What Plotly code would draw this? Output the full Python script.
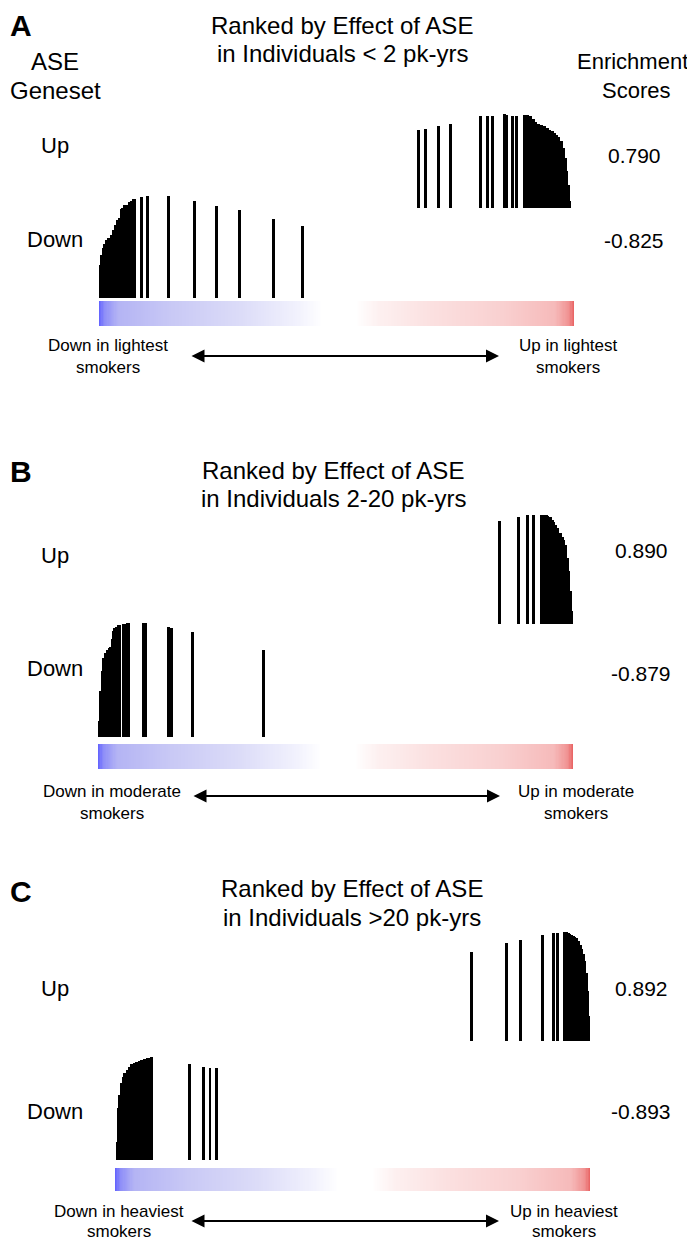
import plotly.graph_objects as go

W, H = 695, 1239

# gene positions in the ranked list (% of list) and bar heights (running score, px units)
a_up_rank = [67.2, 68.8, 71.4, 73.9, 80.4, 81.7, 82.9, 85.3, 85.8, 87.0, 87.9, 89.6, 90.2, 90.9, 91.4, 91.9,
             92.6, 93.1, 93.8, 94.4, 94.9, 95.4, 95.8, 96.3, 96.8, 97.3, 97.8, 98.2, 98.5, 98.8, 99.1]
a_up_height = [78, 79, 82, 84, 92, 92, 92, 94, 93, 92, 92, 93, 93, 92, 89, 86,
               84, 83, 82, 80, 78, 77, 75, 73, 71, 67, 60, 50, 37, 23, 7]
a_down_rank = [0.0, 0.21, 0.48, 0.84, 1.2, 1.54, 2.04, 2.59, 3.01, 3.43, 3.85, 4.21, 4.69, 4.91,
               5.41, 5.83, 6.46, 6.8, 7.22, 7.52, 8.9, 10.3, 14.7, 20.1, 24.7, 29.5, 36.7, 42.9]
a_down_height = [18, 33, 43, 50, 54, 58, 60, 63, 68, 73, 78, 80, 89, 90,
                 93, 93, 96, 97, 99, 99, 101, 102, 102, 97, 92, 88, 79, 72]

b_up_rank = [84.6, 88.6, 90.4, 91.6, 93.3, 93.8, 94.4, 94.7, 95.2, 95.6, 96.0,
             96.4, 96.8, 97.3, 97.7, 98.1, 98.5, 98.8, 99.1, 99.4, 99.6]
b_up_height = [103, 107, 109, 109, 109, 109, 109, 108, 107, 104, 102,
               99, 96, 91, 87, 84, 79, 66, 53, 33, 13]
b_down_rank = [0.36, 0.57, 0.84, 1.2, 1.54, 1.96, 2.32, 2.67, 2.95, 3.16, 3.37, 3.58, 3.85,
               4.36, 4.63, 5.26, 5.54, 6.17, 6.53, 9.62, 10.1, 14.8, 15.4, 19.9, 34.9]
b_down_height = [16, 46, 66, 79, 84, 87, 89, 90, 98, 106, 109, 109, 110,
                 112, 112, 113, 113, 114, 114, 114, 114, 110, 109, 105, 87]

c_up_rank = [75.0, 82.5, 85.3, 90.0, 92.4, 93.1, 94.6, 95.0, 95.4, 95.7, 96.1,
             96.5, 96.8, 97.2, 97.6, 97.9, 98.3, 98.7, 98.9, 99.2, 99.4, 99.6]
c_up_height = [89, 98, 101, 106, 108, 108, 109, 109, 108, 107, 106,
               105, 104, 103, 100, 96, 92, 87, 80, 68, 50, 25]
c_down_rank = [0.48, 0.67, 0.97, 1.33, 1.71, 2.08, 2.55, 3.01, 3.49, 4.04, 4.61,
               5.18, 5.54, 6.11, 6.76, 7.22, 7.71, 15.6, 18.7, 20.0, 21.3]
c_down_height = [18, 52, 65, 77, 83, 87, 90, 93, 96, 97, 98,
                 99, 100, 101, 102, 102, 103, 96, 93, 92, 92]

letters = ["A", "B", "C"]
subtitles = ["in Individuals < 2 pk-yrs", "in Individuals 2-20 pk-yrs", "in Individuals >20 pk-yrs"]
up_scores = ["0.790", "0.890", "0.892"]
down_scores = ["-0.825", "-0.879", "-0.893"]
groups = ["lightest", "moderate", "heaviest"]

ups = [(a_up_rank, a_up_height), (b_up_rank, b_up_height), (c_up_rank, c_up_height)]
downs = [(a_down_rank, a_down_height), (b_down_rank, b_down_height), (c_down_rank, c_down_height)]

# pixel geometry of each panel
panels = [
    dict(top=0, bottom=400, x0=91, x1=566, up_base=200, down_base=290, cb=(293, 318),
         letter_y=17, title_x=334, title_y=(17, 45), up_y=137, down_y=232, score_x=626,
         up_score_y=147, down_score_y=233, foot_x=(100, 560), foot_y=(338, 359),
         arrow_x=(182, 491), arrow_y=348),
    dict(top=400, bottom=820, x0=90, x1=565, up_base=616, down_base=729, cb=(736, 761),
         letter_y=463, title_x=325, title_y=(462, 490), up_y=548, down_y=660, score_x=633,
         up_score_y=542, down_score_y=665, foot_x=(104, 568), foot_y=(783, 805),
         arrow_x=(184, 492), arrow_y=788),
    dict(top=820, bottom=1239, x0=107, x1=582, up_base=1033, down_base=1152, cb=(1160, 1183),
         letter_y=883, title_x=344, title_y=(880, 909), up_y=980, down_y=1103, score_x=633,
         up_score_y=980, down_score_y=1103, foot_x=(111, 556), foot_y=(1203, 1223),
         arrow_x=(182, 491), arrow_y=1213),
]

cscale = [[0, "#5f5fff"], [0.01, "#8c8cf8"], [0.04, "#b4b4f4"], [0.15, "#c8c8f5"],
          [0.3, "#dcdcf8"], [0.42, "#f2f2fd"], [0.47, "#ffffff"], [0.54, "#ffffff"],
          [0.59, "#fdf0f0"], [0.7, "#fbe0e0"], [0.85, "#f9d0d0"], [0.96, "#f6baba"],
          [0.99, "#f09090"], [1, "#e86060"]]

FONT = "Liberation Sans, Arial, Helvetica, sans-serif"
fig = go.Figure()
annotations = []
axes = {}


def txt(x, y, s, size, bold=False, xanchor="center"):
    if bold:
        s = "<b>" + s + "</b>"
    annotations.append(dict(x=x / W, y=1 - y / H, xref="paper", yref="paper", text=s,
                            showarrow=False, xanchor=xanchor, yanchor="middle", borderpad=0,
                            font=dict(family=FONT, size=size, color="black")))


edges = [k * 0.25 for k in range(401)]
for i, p in enumerate(panels):
    xa = "x" if i == 0 else "x%d" % (i + 1)
    ya = "y" if i == 0 else "y%d" % (i + 1)

    # ranked-list colour bar
    fig.add_trace(go.Heatmap(x=edges, y=list(p["cb"]), z=[[e + 0.125 for e in edges[:-1]]],
                             colorscale=cscale, zmin=0, zmax=100, showscale=False,
                             hoverinfo="skip", xaxis=xa, yaxis=ya))
    for (rank, height), base in [(ups[i], p["up_base"]), (downs[i], p["down_base"])]:
        fig.add_trace(go.Bar(x=rank, y=[-h for h in height], base=base, width=0.62,
                             marker=dict(color="black", line_width=0),
                             hoverinfo="skip", xaxis=xa, yaxis=ya))

    axes["xaxis" if i == 0 else "xaxis%d" % (i + 1)] = dict(
        domain=[p["x0"] / W, p["x1"] / W], range=[0, 100], visible=False, fixedrange=True, anchor=ya)
    axes["yaxis" if i == 0 else "yaxis%d" % (i + 1)] = dict(
        domain=[1 - p["bottom"] / H, 1 - p["top"] / H], range=[p["bottom"], p["top"]],
        visible=False, fixedrange=True, anchor=xa)

    txt(1, p["letter_y"], letters[i], 30, bold=True, xanchor="left")
    txt(p["title_x"], p["title_y"][0], "Ranked by Effect of ASE", 24)
    txt(p["title_x"], p["title_y"][1], subtitles[i], 24)
    if i == 0:
        txt(47, 53, "ASE", 24)
        txt(47, 82, "Geneset", 24)
        txt(624, 53, "Enrichment", 22)
        txt(628, 82, "Scores", 22)
    txt(47, p["up_y"], "Up", 22)
    txt(47, p["down_y"], "Down", 22)
    txt(p["score_x"], p["up_score_y"], up_scores[i], 21)
    txt(p["score_x"], p["down_score_y"], down_scores[i], 21)
    txt(p["foot_x"][0], p["foot_y"][0], "Down in " + groups[i], 17)
    txt(p["foot_x"][0], p["foot_y"][1], "smokers", 17)
    txt(p["foot_x"][1], p["foot_y"][0], "Up in " + groups[i], 17)
    txt(p["foot_x"][1], p["foot_y"][1], "smokers", 17)

    annotations.append(dict(x=p["arrow_x"][1] / W, y=1 - p["arrow_y"] / H, xref="paper", yref="paper",
                            ax=p["arrow_x"][0] - p["arrow_x"][1], ay=0, text="", showarrow=True,
                            arrowside="end+start", arrowhead=2, arrowsize=1.3, arrowwidth=2,
                            arrowcolor="black", standoff=0, startstandoff=0))

fig.update_layout(width=W, height=H, margin=dict(l=0, r=0, t=0, b=0),
                  paper_bgcolor="white", plot_bgcolor="white", showlegend=False,
                  barmode="overlay", bargap=0, annotations=annotations, **axes)

fig.write_html("out.html", config={"displayModeBar": False})
